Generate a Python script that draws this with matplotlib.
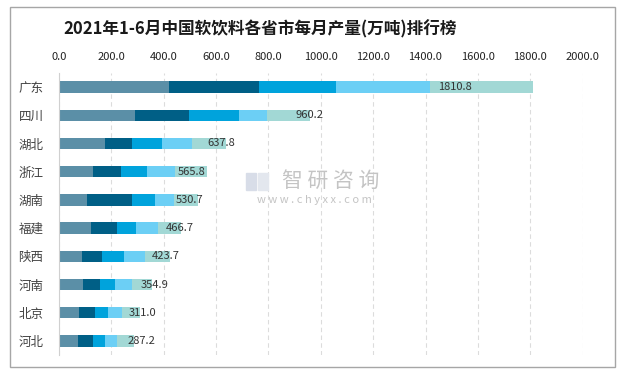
import matplotlib
matplotlib.use("Agg")
import matplotlib.pyplot as plt
from matplotlib.patches import Rectangle
from matplotlib import font_manager

plt.rcParams['font.family'] = ['Noto Sans CJK SC', 'DejaVu Sans']

# ── data (万吨) ──────────────────────────────────────────
provinces = ['广东', '四川', '湖北', '浙江', '湖南', '福建', '陕西', '河南', '北京', '河北']
totals    = [1810.8, 960.2, 637.8, 565.8, 530.7, 466.7, 423.7, 354.9, 311.0, 287.2]

seg1 = [421, 291, 177, 131, 107, 123, 89, 93, 77, 74]
seg2 = [344, 207, 103, 107, 173, 100, 76, 65, 62, 57]
seg3 = [294, 191, 115, 99, 88, 72, 84, 57, 50, 46]
seg4 = [359, 106, 114, 107, 73, 85, 81, 65, 53, 46]
seg5 = [392.8, 165.2, 128.8, 121.8, 89.7, 86.7, 93.7, 74.9, 69.0, 64.2]

# where each total label starts (data units)
label_x = [1449, 903, 566, 456, 448, 410, 356, 314, 268, 261]

xticks = [0, 200, 400, 600, 800, 1000, 1200, 1400, 1600, 1800, 2000]

colors = ['#5b8fa7', '#005f86', '#00a3dc', '#6ccff5', '#a2d8d5']

# narrow font for the top axis if available
names = {f.name for f in font_manager.fontManager.ttflist}
tick_font = 'Liberation Sans Narrow' if 'Liberation Sans Narrow' in names else 'Noto Sans CJK SC'

# ── figure ───────────────────────────────────────────────
fig = plt.figure(figsize=(6.29, 3.75), dpi=100)
fig.patches.append(Rectangle((10 / 629, 1 - 366.5 / 375), 605 / 629, 360 / 375,
                             transform=fig.transFigure, fill=False,
                             edgecolor='#a6a6a6', linewidth=1.0))

ax = fig.add_axes([58.7 / 629, 1 - 355 / 375, 524 / 629, 282 / 375])

y = list(range(len(provinces)))
left = [0] * len(provinces)
for seg, c in zip([seg1, seg2, seg3, seg4, seg5], colors):
    ax.barh(y, seg, left=left, height=0.40, color=c, zorder=3)
    left = [l + s for l, s in zip(left, seg)]

for i, t in enumerate(totals):
    ax.text(label_x[i], i, f"{t:.1f}", ha='left', va='center',
            fontsize=8, color='#333333', zorder=4)

ax.set_xlim(0, 2000)
ax.set_ylim(len(provinces) - 0.5, -0.5)
ax.set_xticks(xticks)
ax.set_xticklabels([f"{v:.1f}" for v in xticks], family=tick_font)
ax.set_yticks(y)
ax.set_yticklabels(provinces)
ax.xaxis.tick_top()
ax.tick_params(axis='x', length=0, pad=8, labelsize=8, labelcolor='#222222')
ax.tick_params(axis='y', length=0, pad=11, labelsize=9, labelcolor='#404040')

ax.grid(axis='x', linestyle=(0, (4, 3)), color='#dcdcdc', linewidth=0.8, zorder=0)
for s in ['top', 'right', 'bottom']:
    ax.spines[s].set_visible(False)
ax.spines['left'].set_color('#d0d0d0')
ax.spines['left'].set_zorder(5)

fig.text(260 / 629, 1 - 29 / 375, "2021年1-6月中国软饮料各省市每月产量(万吨)排行榜",
         ha='center', va='center', fontsize=12, fontweight='bold', color='#1a1a1a')

# watermark
fig.patches.append(Rectangle((246 / 629, 1 - 190 / 375), 10 / 629, 17 / 375,
                             transform=fig.transFigure, color='#d8dde8', zorder=0))
fig.patches.append(Rectangle((258 / 629, 1 - 190 / 375), 10 / 629, 17 / 375,
                             transform=fig.transFigure, color='#e3e7ee', zorder=0))
fig.text(331 / 629, 1 - 181 / 375, "智 研 咨 询", ha='center', va='center',
         fontsize=15, color='#c4c4c4')
fig.text(314 / 629, 1 - 200 / 375, "w w w . c h y x x . c o m", ha='center', va='center',
         fontsize=8, color='#c4c4c4')

fig.savefig("out.png", dpi=100)
